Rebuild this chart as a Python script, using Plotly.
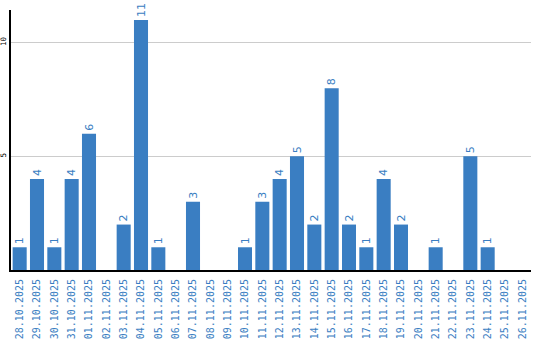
import plotly.graph_objects as go

dates = ["28.10.2025", "29.10.2025", "30.10.2025", "31.10.2025", "01.11.2025",
         "02.11.2025", "03.11.2025", "04.11.2025", "05.11.2025", "06.11.2025",
         "07.11.2025", "08.11.2025", "09.11.2025", "10.11.2025", "11.11.2025",
         "12.11.2025", "13.11.2025", "14.11.2025", "15.11.2025", "16.11.2025",
         "17.11.2025", "18.11.2025", "19.11.2025", "20.11.2025", "21.11.2025",
         "22.11.2025", "23.11.2025", "24.11.2025", "25.11.2025", "26.11.2025"]
values = [1, 4, 1, 4, 6, 0, 2, 11, 1, 0, 3, 0, 0, 1, 3, 4, 5, 2, 8, 2,
          1, 4, 2, 0, 1, 0, 5, 1, 0, 0]
y_ticks = [5, 10]

BLUE = "#3a7ec2"
labels = [str(v) if v else "" for v in values]

fig = go.Figure(go.Bar(
    x=dates, y=values, text=labels, textposition="outside", textangle=-90,
    textfont=dict(color=BLUE, size=11, family="DejaVu Sans"),
    marker=dict(color=BLUE, line=dict(width=0)), cliponaxis=False,
))
fig.update_layout(
    width=540, height=340, margin=dict(l=11, r=9, t=10, b=70),
    paper_bgcolor="white", plot_bgcolor="white", showlegend=False,
    bargap=0.19,
    xaxis=dict(type="category", tickangle=-90, showgrid=False, ticks="",
               ticklabelstandoff=3,
               showline=True, linecolor="black", linewidth=2,
               tickfont=dict(family="DejaVu Sans Mono", size=10, color=BLUE),
               automargin=False),
    yaxis=dict(range=[0, 11.44], tickvals=y_ticks, tickangle=-90,
               showgrid=True, gridcolor="#cccccc", gridwidth=1,
               showline=True, linecolor="black", linewidth=1.5, zeroline=False,
               ticks="", ticklen=0,
               tickfont=dict(family="DejaVu Sans Mono", size=7.5, color="black"),
               automargin=False),
    uniformtext=dict(minsize=6, mode="show"),
)
fig.write_html("out.html")
